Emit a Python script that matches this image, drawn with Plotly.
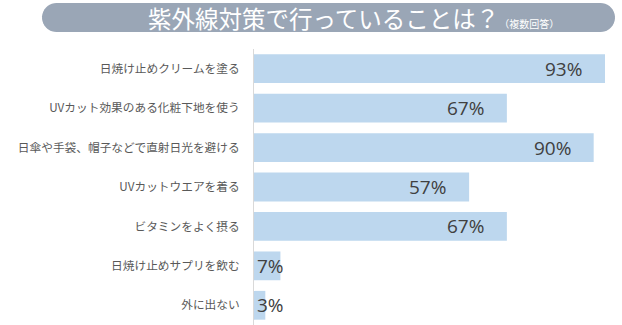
import numpy as np
import plotly.graph_objects as go

title_main = "紫外線対策で行っていることは？"
title_sub = "（複数回答）"
categories = [
    "日焼け止めクリームを塗る",
    "UVカット効果のある化粧下地を使う",
    "日傘や手袋、帽子などで直射日光を避ける",
    "UVカットウエアを着る",
    "ビタミンをよく摂る",
    "日焼け止めサプリを飲む",
    "外に出ない",
]
values = [93, 67, 90, 57, 67, 7, 3]

W, H = 622, 325
L, R, T, B = 254, 8, 49, 0
PW, PH = W - L - R, H - T - B
XMAX = PW / (351 / 93)

def px_to_paper(px, py):
    return (px - L) / PW, (H - B - py) / PH

FONT = "Noto Sans CJK JP"
NUMFONT = "Open Sans"

fig = go.Figure()
fig.add_trace(go.Bar(
    y=categories, x=values, orientation="h", width=0.73,
    marker=dict(color="#BDD7EE", line=dict(width=0)),
    hoverinfo="skip",
))

# value labels: inside end, clamped to bar start when the bar is short
for c, v in zip(categories, values):
    bar_px = v * PW / XMAX
    if bar_px > 60:
        fig.add_annotation(x=v, y=c, xref="x", yref="y", text=f"{v}%",
                           showarrow=False, xanchor="right", xshift=-21,
                           font=dict(family=NUMFONT, size=19, color="#404040"))
    else:
        fig.add_annotation(x=0, y=c, xref="x", yref="y", text=f"{v}%",
                           showarrow=False, xanchor="left", xshift=1,
                           font=dict(family=NUMFONT, size=19, color="#404040"))

# title pill (stadium shape)
x0p, x1p, y0p, y1p = 42, 615, 3, 32
r = (y1p - y0p) / 2
pts = []
for a in np.linspace(np.pi / 2, -np.pi / 2, 20):
    pts.append((x1p - r + r * np.cos(a), (y0p + y1p) / 2 - r * np.sin(a)))
for a in np.linspace(-np.pi / 2, -3 * np.pi / 2, 20):
    pts.append((x0p + r + r * np.cos(a), (y0p + y1p) / 2 - r * np.sin(a)))
pp = [px_to_paper(x, y) for x, y in pts]
path = "M " + " L ".join(f"{x:.5f},{y:.5f}" for x, y in pp) + " Z"
fig.add_shape(type="path", path=path, xref="paper", yref="paper",
              fillcolor="#9AA6B6", line=dict(width=0), layer="below")

tx, ty = px_to_paper(146, 18)
fig.add_annotation(x=tx, y=ty, xref="paper", yref="paper", xanchor="left",
                   yanchor="middle", showarrow=False,
                   text=f"{title_main}<span style='font-size:10px'>{title_sub}</span>",
                   font=dict(family=FONT, size=23.5, color="#FFFFFF"))

fig.update_layout(
    width=W, height=H, margin=dict(l=L, r=R, t=T, b=B, pad=0),
    paper_bgcolor="white", plot_bgcolor="white", showlegend=False,
    bargap=0.27,
)
fig.update_xaxes(range=[0, XMAX], showgrid=False, zeroline=False,
                 showticklabels=False, showline=False, fixedrange=True)
fig.update_yaxes(range=[6.5, -0.5], showgrid=False, zeroline=False,
                 showline=True, linecolor="#D9D9D9", linewidth=1,
                 ticks="", ticklabelstandoff=11,
                 tickfont=dict(family=FONT, size=11.7, color="#595959"),
                 fixedrange=True)

fig.write_html("out.html", config={"displayModeBar": False})
